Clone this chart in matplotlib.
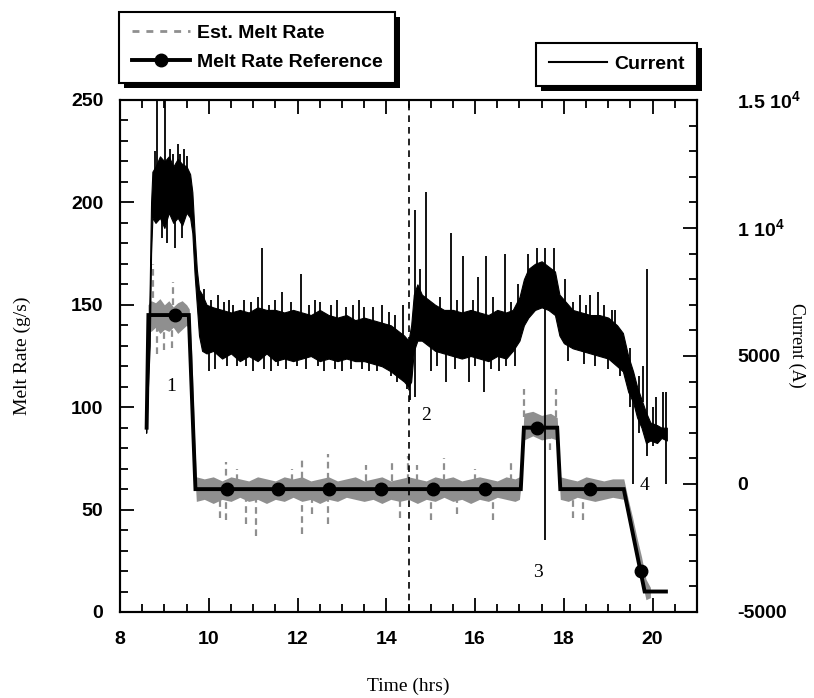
import numpy as np
import matplotlib
matplotlib.use("Agg")
import matplotlib.pyplot as plt
from matplotlib.lines import Line2D
from matplotlib.patches import Rectangle
from matplotlib.ticker import MultipleLocator, FixedLocator, FuncFormatter

plt.rcParams['font.family'] = ['Liberation Sans', 'DejaVu Sans']
plt.rcParams['mathtext.fontset'] = 'custom'
plt.rcParams['mathtext.rm'] = 'Liberation Sans:bold'
plt.rcParams['mathtext.bf'] = 'Liberation Sans:bold'

# ---------------- data ----------------
# Current (A): envelope of the noisy trace
cur_t = [8.59, 8.63, 8.67, 8.70, 8.73, 8.8, 8.9, 9.0, 9.1, 9.2, 9.3, 9.4, 9.5, 9.58, 9.63, 9.68,
         9.73, 9.78, 9.85, 9.95, 10.1, 10.3, 10.5, 10.7, 10.9, 11.1, 11.3, 11.5, 11.7, 11.9, 12.1,
         12.3, 12.5, 12.7, 12.9, 13.1, 13.3, 13.5, 13.7, 13.9, 14.1, 14.25, 14.4, 14.5, 14.56,
         14.62, 14.7, 14.8, 14.95, 15.1, 15.3, 15.5, 15.7, 15.9, 16.1, 16.3, 16.5, 16.7, 16.85,
         17.0, 17.1, 17.2, 17.35, 17.5, 17.65, 17.8, 17.9, 18.0, 18.2, 18.4, 18.6, 18.8, 19.0,
         19.2, 19.33, 19.45, 19.56, 19.65, 19.75, 19.85, 19.95, 20.1, 20.2, 20.32]
cur_lo = [2000, 3800, 5400, 9000, 10400, 10200, 10400, 10000, 10600, 10200, 10400, 10100, 10600,
          10400, 9800, 8200, 7000, 5800, 5200, 5100, 5200, 4900, 5100, 4800, 5000, 4800, 5100,
          4800, 4900, 4800, 4900, 5000, 4800, 4900, 4800, 4900, 4800, 4800, 4700, 4600, 4400,
          4200, 4000, 3800, 4000, 5200, 5600, 5600, 5400, 5200, 5100, 5000, 4900, 5000, 4900,
          4800, 5000, 4900, 5200, 5600, 6200, 6500, 6800, 6900, 6800, 6600, 5800, 5500, 5300,
          5200, 5100, 5000, 4900, 4600, 4400, 3600, 3200, 2600, 2200, 1600, 1700, 1600, 1800, 1700]
cur_hi = [2400, 4600, 7800, 11000, 12200, 12400, 12800, 12600, 12800, 12400, 12700, 12500, 12400,
          12100, 11400, 9800, 8400, 7600, 7400, 7000, 6900, 6800, 6700, 6800, 6700, 6900, 6800,
          6800, 6700, 6800, 6700, 6600, 6800, 6600, 6500, 6600, 6400, 6500, 6400, 6300, 6200,
          6000, 5800, 5600, 6200, 7400, 7800, 7400, 7200, 7000, 6800, 6800, 6700, 6800, 6700,
          6600, 6800, 6700, 6800, 7300, 8000, 8400, 8600, 8700, 8500, 8300, 7400, 7200, 6800,
          6700, 6600, 6600, 6500, 6200, 5900, 5000, 4400, 3800, 3300, 2800, 2400, 2300, 2200, 2200]
# Current spikes (time, low, high) in A
spk_t = [8.83, 9.01, 9.2, 9.31, 9.45, 8.95, 9.05, 9.25, 9.4, 8.78, 9.12, 9.36, 9.52,
         10.2, 10.45, 10.8, 11.2, 11.49, 11.65, 12.08, 12.5, 12.9, 13.38, 13.9, 14.37,
         9.9, 10.05, 10.35, 10.55, 10.95, 11.1, 11.35, 11.85, 12.25, 12.4, 12.75, 13.1, 13.25,
         13.5, 13.7, 14.05, 14.2,
         10.0, 10.63, 11.0, 11.4, 11.75, 11.98, 12.6, 13.0, 13.6, 14.24, 14.46, 14.53,
         10.15, 10.4, 10.85, 11.25, 11.55, 12.2, 12.45, 12.85, 13.2, 13.45, 13.8, 14.1,
         14.64, 14.89, 15.45, 15.72, 16.06, 16.24, 16.67, 16.96,
         15.2, 15.6, 15.95, 16.4, 16.8, 14.75,
         15.0, 15.34, 15.86, 16.2, 16.54, 16.9, 15.15, 15.55, 16.0, 16.35, 16.7,
         17.2, 17.39, 17.57, 17.77, 18.02, 18.36, 18.59, 18.77, 19.08, 19.26,
         18.2, 18.5, 18.9, 19.15, 18.1, 18.45, 18.7, 19.0,
         19.56, 19.87, 20.3, 19.78, 20.07, 20.23, 19.5, 19.7, 20.0]
spk_lo = [11000, 10800, 11000, 11000, 11000, 9600, 9400, 9200, 9600, 11000, 11000, 11000, 11000,
          6000, 6000, 6000, 6000, 6000, 6000, 6000, 6000, 6000, 6000, 6000, 5800,
          6000, 6000, 6000, 6000, 6000, 6000, 6000, 6000, 6000, 6000, 6000, 6000, 6000,
          6000, 6000, 5800, 5600,
          4400, 4600, 4400, 4400, 4500, 4600, 4400, 4400, 4400, 4000, 3700, 3300,
          4500, 4600, 4600, 4500, 4600, 4500, 4600, 4500, 4500, 4500, 4400, 4200,
          3400, 6000, 6000, 6000, 6000, 6000, 6000, 6000,
          6000, 6000, 6000, 6000, 6000, 6500,
          4400, 4000, 4000, 3600, 4400, 4600, 4600, 4500, 4600, 4500, 4600,
          7000, 7000, -2200, 7000, 6400, 6200, 6200, 6200, 6000, 4200,
          6200, 6200, 6000, 6000, 4800, 4700, 4600, 4500,
          0, 1100, 0, 3200, 2000, 2000, 3000, 2000, 1500]
spk_hi = [16000, 16000, 12900, 13300, 13100, 11000, 11000, 11000, 11000, 13000, 13100, 12900, 12800,
          7400, 7200, 7200, 9200, 7200, 7500, 8200, 7100, 7200, 7200, 7000, 7000,
          7600, 7200, 7100, 7000, 7100, 7300, 7000, 7100, 7000, 7200, 7000, 6900, 7000,
          6900, 6900, 6700, 6600,
          5600, 5600, 5600, 5600, 5600, 5600, 5600, 5600, 5600, 5400, 5200, 5000,
          5400, 5400, 5400, 5400, 5400, 5400, 5400, 5300, 5300, 5200, 5100, 5000,
          10700, 11400, 9800, 8900, 8100, 8900, 9000, 7800,
          7300, 7200, 7200, 7300, 7100, 8400,
          5600, 5600, 5600, 5600, 5600, 5800, 5500, 5500, 5500, 5500, 5500,
          9000, 9200, 9200, 9200, 8000, 7400, 7400, 7500, 6800, 5600,
          7100, 7000, 7000, 6800, 5600, 5500, 5500, 5400,
          4400, 8400, 3600, 4600, 3400, 3600, 5300, 4200, 3000]

# Estimated melt rate (g/s): envelope of the noisy trace
est_t = [8.63, 8.7, 8.8, 8.9, 9.0, 9.1, 9.2, 9.3, 9.4, 9.5, 9.56, 9.62, 9.68, 9.72, 9.9, 10.1,
         10.3, 10.5, 10.7, 10.9, 11.1, 11.3, 11.5, 11.7, 11.9, 12.1, 12.3, 12.5, 12.7, 12.9,
         13.1, 13.3, 13.5, 13.7, 13.9, 14.1, 14.3, 14.5, 14.7, 14.9, 15.1, 15.3, 15.5, 15.7,
         15.9, 16.1, 16.3, 16.5, 16.7, 16.9, 17.0, 17.05, 17.1, 17.3, 17.5, 17.7, 17.85, 17.92,
         18.1, 18.3, 18.5, 18.7, 18.9, 19.1, 19.35, 19.45, 19.55, 19.65, 19.75, 19.85, 19.95]
est_lo = [138, 137, 139, 136, 138, 137, 139, 136, 138, 140, 138, 110, 70, 54, 55, 53, 55, 54, 56,
          54, 55, 53, 55, 54, 56, 54, 55, 53, 55, 54, 56, 55, 54, 55, 53, 55, 54, 55, 53, 55, 54,
          56, 54, 55, 53, 55, 54, 56, 55, 54, 55, 65, 84, 86, 84, 85, 84, 55, 54, 56, 55, 54, 55,
          56, 55, 46, 36, 26, 16, 6, 7]
est_hi = [150, 152, 151, 153, 150, 152, 149, 151, 152, 150, 148, 125, 85, 66, 65, 66, 64, 66, 65,
          64, 66, 65, 64, 66, 65, 66, 64, 65, 66, 64, 65, 66, 64, 65, 66, 64, 65, 66, 65, 64, 66,
          65, 66, 64, 65, 66, 65, 64, 66, 65, 66, 75, 97, 98, 96, 97, 95, 66, 65, 64, 66, 65, 64,
          65, 65, 55, 46, 36, 27, 16, 12]
# Estimated melt rate excursions (time, low, high) in g/s
est_spk_t = [8.74, 8.83, 9.0, 9.17, 9.2, 10.25, 10.39, 10.63, 10.84, 11.06, 11.87, 12.1, 12.32,
             12.68, 13.54, 14.13, 14.31, 14.49, 14.7, 15.0, 15.3, 15.6, 16.0, 16.4, 16.8,
             17.1, 17.68, 17.82, 18.2, 18.43]
est_spk_lo = [148, 126, 128, 129, 150, 46, 45, 64, 43, 37, 64, 38, 48, 43, 64, 64, 46, 64, 64,
              45, 64, 48, 64, 45, 64, 95, 79, 95, 46, 45]
est_spk_hi = [170, 140, 138, 138, 161, 55, 73, 70, 55, 55, 70, 75, 55, 77, 72, 73, 55, 76, 72,
              55, 75, 55, 70, 55, 74, 109, 86, 109, 55, 55]

# Melt rate reference (g/s)
ref_t = [8.6, 8.64, 9.55, 9.7, 17.03, 17.1, 17.85, 17.92, 19.35, 19.82, 20.3]
ref_v = [90, 145, 145, 60, 60, 90, 90, 60, 60, 10, 10]
ref_mk_t = [9.25, 10.41, 11.56, 12.72, 13.88, 15.05, 16.22, 17.39, 18.59, 19.73]
ref_mk_v = [145, 60, 60, 60, 60, 60, 60, 90, 60, 20]

event_time = 14.5
event_labels = ['1', '2', '3', '4']
event_x = [9.15, 14.9, 17.41, 19.82]
event_y = [110, 96, 19.5, 62]

right_ticks = [-5000, 0, 5000, 10000, 15000]
right_labels = ['-5000', '0', '5000', r'1 10$^{4}$', r'1.5 10$^{4}$']

# ---------------- figure ----------------
W, H = 814, 698
fig = plt.figure(figsize=(W / 100, H / 100), dpi=100)
ax = fig.add_axes([120 / W, 1 - 612 / H, (697 - 120) / W, (612 - 100) / H])
ax2 = ax.twinx()

GRAY = '#8f8f8f'
# estimated melt rate
ax.fill_between(est_t, est_lo, est_hi, color=GRAY, lw=0, zorder=2)
ax.vlines(est_spk_t, est_spk_lo, est_spk_hi, color=GRAY, lw=1.6,
          linestyles=(0, (3, 2)), zorder=2)
# reference
ax.plot(ref_t, ref_v, color='black', lw=2.8, zorder=3, solid_joinstyle='miter')
ax.plot(ref_mk_t, ref_mk_v, ls='none', marker='o', ms=9, color='black', zorder=4)
# event line
ax.axvline(event_time, color='black', lw=1.2, ls=(0, (4, 3)), zorder=5)
for s, x, y in zip(event_labels, event_x, event_y):
    ax.text(x, y, s, ha='center', va='center', fontsize=14, family='Liberation Serif')

# current
ax2.fill_between(cur_t, cur_lo, cur_hi, color='black', lw=0.8, edgecolor='black')
ax2.vlines(spk_t, spk_lo, spk_hi, color='black', lw=1.3)

# axes
ax.set_xlim(8, 21)
ax.set_ylim(0, 250)
ax2.set_ylim(-5000, 15000)

ax.xaxis.set_major_locator(MultipleLocator(2))
ax.xaxis.set_minor_locator(MultipleLocator(0.5))
ax.yaxis.set_major_locator(MultipleLocator(50))
ax.yaxis.set_minor_locator(MultipleLocator(10))
ax2.yaxis.set_major_locator(FixedLocator(right_ticks))
ax2.yaxis.set_minor_locator(MultipleLocator(1000))
ax2.yaxis.set_major_formatter(FuncFormatter(
    lambda v, p: right_labels[right_ticks.index(int(round(v)))] if int(round(v)) in right_ticks else ''))

ax.tick_params(axis='both', which='both', direction='in', top=True, right=False,
               width=1.3, labelsize=14)
ax.tick_params(axis='both', which='major', length=10)
ax.tick_params(axis='both', which='minor', length=6)
ax.tick_params(axis='y', pad=12)
ax.tick_params(axis='x', pad=14)
ax2.tick_params(axis='y', which='both', direction='in', width=1.3, labelsize=14, pad=29)
ax2.tick_params(axis='y', which='major', length=10)
ax2.tick_params(axis='y', which='minor', length=6)
for a in (ax, ax2):
    for lab in a.get_xticklabels() + a.get_yticklabels():
        lab.set_fontweight('bold')
for sp in ax.spines.values():
    sp.set_linewidth(1.5)
for sp in ax2.spines.values():
    sp.set_linewidth(1.5)

ax.set_xlabel('Time (hrs)', family='Liberation Serif', fontsize=14, labelpad=21)
ax.set_ylabel('Melt Rate (g/s)', family='Liberation Serif', fontsize=14)
ax.yaxis.set_label_coords(-0.155, 0.5)
ax2.set_ylabel('Current (A)', family='Liberation Serif', fontsize=13, rotation=270)
ax2.yaxis.label.set_va('center')
ax2.yaxis.label.set_ha('center')
ax2.yaxis.set_label_coords(1.172, 0.52)

# legends
h_est = Line2D([], [], color=GRAY, lw=2, ls=(0, (2.5, 2.5)))
h_ref = Line2D([], [], color='black', lw=2.8, marker='o', ms=9)
h_cur = Line2D([], [], color='black', lw=1.5)
leg1 = fig.legend([h_est, h_ref], ['Est. Melt Rate', 'Melt Rate Reference'],
                  loc='upper left', bbox_to_anchor=(119 / W, 1 - 12 / H),
                  prop={'family': 'Liberation Sans', 'weight': 'bold', 'size': 14},
                  handlelength=3.0, handletextpad=0.35, borderpad=0.65, labelspacing=0.55,
                  fancybox=False, framealpha=1, edgecolor='black', numpoints=1, borderaxespad=0)
leg2 = fig.legend([h_cur], ['Current'], loc='upper right', bbox_to_anchor=(697 / W, 1 - 43 / H),
                  prop={'family': 'Liberation Sans', 'weight': 'bold', 'size': 14},
                  handlelength=3.0, handletextpad=0.35, borderpad=0.65,
                  fancybox=False, framealpha=1, edgecolor='black', borderaxespad=0)
for lg in (leg1, leg2):
    lg.get_frame().set_linewidth(1.5)
    lg.set_zorder(5)

fig.canvas.draw()
inv = fig.transFigure.inverted()
for lg in (leg1, leg2):
    bb = lg.get_frame().get_window_extent(fig.canvas.get_renderer())
    (x0, y0), (x1, y1) = inv.transform([[bb.x0 + 5, bb.y0 - 5], [bb.x1 + 5, bb.y1 - 5]])
    fig.add_artist(Rectangle((x0, y0), x1 - x0, y1 - y0, transform=fig.transFigure,
                             facecolor='black', edgecolor='none', zorder=4))

fig.savefig('out.png', dpi=100)
